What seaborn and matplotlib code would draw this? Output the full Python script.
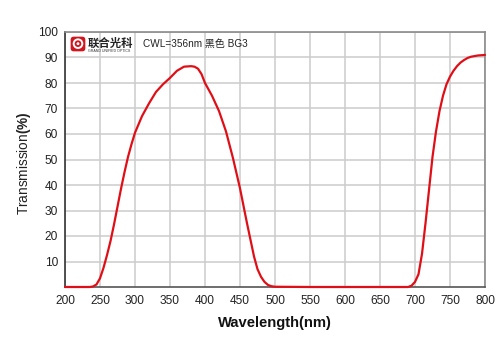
import matplotlib
matplotlib.use("Agg")
import matplotlib.pyplot as plt
import seaborn as sns
from matplotlib.patches import FancyBboxPatch, Circle

wavelength = [200, 220, 235, 240, 245, 250, 255, 260, 265, 270, 275, 280, 285, 290, 295,
              300, 310, 320, 330, 340, 350, 360, 370, 380, 385, 390, 395, 400, 410, 420, 430,
              440, 450, 460, 465, 470, 475, 480, 485, 490, 495, 500, 550, 600, 650, 690,
              695, 700, 705, 710, 715, 720, 725, 730, 735, 740, 745, 750, 755, 760, 765,
              770, 775, 780, 790, 800]
transmission = [0, 0, 0, 0.2, 1, 3.4, 7.5, 12.5, 18, 24.5, 31.5, 38.5, 45, 51, 56,
                60.5, 67, 72, 76.5, 79.5, 82, 84.8, 86.4, 86.6, 86.4, 85.6, 83.5, 80, 75, 69, 61,
                50.5, 38.7, 25, 18.5, 12, 7, 4, 2, 0.8, 0.3, 0.1, 0, 0, 0, 0,
                0.5, 2, 5, 13, 25, 38, 51, 61, 69, 75, 79.5, 82.5, 84.8, 86.6, 88,
                89, 89.8, 90.3, 90.8, 91]
x_ticks = [200, 250, 300, 350, 400, 450, 500, 550, 600, 650, 700, 750, 800]
y_ticks = [10, 20, 30, 40, 50, 60, 70, 80, 90, 100]
annotation = "CWL=356nm 黑色 BG3"
brand = "联合光科"
brand_en = "GRAND UNIFIED OPTICS"

sns.set_theme(style="white")
plt.rcParams['font.family'] = ['Liberation Sans', 'Noto Sans CJK SC', 'DejaVu Sans']
plt.rcParams['mathtext.fontset'] = 'custom'
plt.rcParams['mathtext.rm'] = 'Liberation Sans'
plt.rcParams['mathtext.bf'] = 'Liberation Sans:bold'

W, H = 500, 353
fig = plt.figure(figsize=(5.0, 3.53), dpi=100)
ax = fig.add_axes([65 / W, 1 - 287 / H, 420 / W, 255 / H])

ax.set_xlim(200, 800)
ax.set_ylim(0, 100)
ax.set_xticks(x_ticks)
ax.set_yticks(y_ticks)
ax.grid(True, color='#cccccc', linewidth=1.1)
ax.set_axisbelow(True)

sns.lineplot(x=wavelength, y=transmission, color='#e00f17', linewidth=1.6, ax=ax,
             clip_on=False, zorder=5)

for side in ['top', 'right']:
    ax.spines[side].set_color('#8a8a8a')
    ax.spines[side].set_linewidth(1.2)
ax.spines['left'].set_color('#333333')
ax.spines['left'].set_linewidth(1.2)
ax.spines['bottom'].set_color('#555555')
ax.spines['bottom'].set_linewidth(1.2)

ax.tick_params(axis='y', direction='out', length=3, width=0.8, color='#555555',
               labelsize=8.6, labelcolor='#222222', pad=2)
ax.tick_params(axis='x', direction='out', length=0, labelsize=8.6, labelcolor='#222222', pad=6)

ax.set_xlabel("Wavelength(nm)", fontsize=10.6, fontweight='bold', color='#111111', labelpad=6)
ax.set_ylabel("")
fig.text(24 / W, 1 - 163 / H, r"Transmission$\mathbf{(\%)}$", rotation=90,
         ha='center', va='center', fontsize=9.8, color='#222222')

# annotation text
ax.text(311, 95.3, annotation, fontsize=7.2, color='#222222', ha='left', va='center',
        family=['Liberation Sans', 'Noto Sans CJK SC'])

# logo
lax = fig.add_axes([70 / W, 1 - 52 / H, 16 / W, 16 / H])
lax.set_xlim(0, 1)
lax.set_ylim(0, 1)
lax.axis('off')
lax.add_patch(FancyBboxPatch((0.04, 0.04), 0.92, 0.92, boxstyle="round,pad=0,rounding_size=0.2",
                             facecolor='#d0161e', edgecolor='none'))
lax.add_patch(Circle((0.5, 0.52), 0.27, facecolor='none', edgecolor='white', linewidth=1.4))
lax.add_patch(Circle((0.5, 0.52), 0.09, facecolor='white', edgecolor='none'))
fig.text(88 / W, 1 - 43 / H, brand, fontsize=8.2, fontweight='bold', color='#222222',
         ha='left', va='center', family=['Noto Sans CJK SC'])
fig.text(88 / W, 1 - 51 / H, brand_en, fontsize=2.6, color='#333333',
         ha='left', va='center')

fig.savefig("out.png", dpi=100)
